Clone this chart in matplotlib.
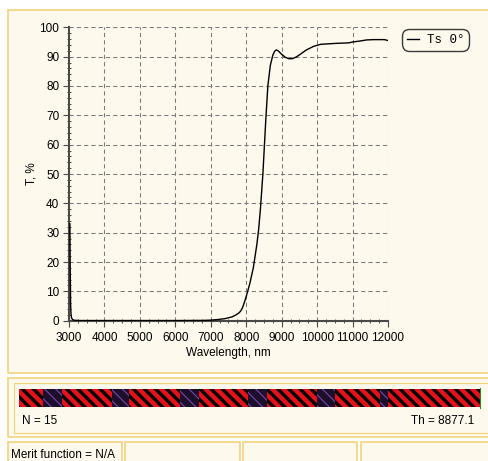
import matplotlib
matplotlib.use("Agg")
import matplotlib.pyplot as plt
import numpy as np
from matplotlib.patches import Rectangle
from matplotlib.lines import Line2D

# ---- data -------------------------------------------------------------
wavelength_nm = [3025, 3032, 3038, 3045, 3055, 3070, 3100, 3150, 3300, 4000,
                 5000, 6000, 6800, 7000, 7200, 7400, 7600, 7700, 7800, 7850,
                 7900, 7950, 8000, 8050, 8100, 8200, 8300, 8350, 8400, 8470,
                 8550, 8610, 8680, 8750, 8800, 8850, 8900, 9000, 9100, 9200,
                 9300, 9400, 9500, 9700, 9900, 10100, 10500, 10900, 11000,
                 11200, 11400, 11600, 11800, 11900, 12000]
transmittance = [33, 20, 14, 6, 2.5, 1.0, 0.4, 0.15, 0.05, 0.05,
                 0.05, 0.05, 0.1, 0.2, 0.4, 0.7, 1.3, 1.9, 2.7, 3.4,
                 4.6, 6.3, 8.3, 10.4, 12.6, 18, 26, 31, 38, 50,
                 68, 80, 87, 90.5, 91.8, 92.3, 92.0, 90.8, 89.8, 89.3,
                 89.3, 89.8, 90.6, 92.3, 93.5, 94.2, 94.5, 94.7, 95.0,
                 95.3, 95.7, 95.8, 95.8, 95.8, 95.5]

x_ticks = [3000, 4000, 5000, 6000, 7000, 8000, 9000, 10000, 11000, 12000]
y_ticks = [0, 10, 20, 30, 40, 50, 60, 70, 80, 90, 100]

# layer stack (physical thickness, nm) and material of each layer
layer_thickness = [462, 366, 963, 327, 982, 366, 944, 366, 963, 347, 867, 154, 1770.1]
layer_material = ["H", "L", "H", "L", "H", "L", "H", "L", "H", "L", "H", "L", "H"]
n_layers = 15
total_thickness = 8877.1

legend_label = "Ts 0°"

# ---- style ------------------------------------------------------------
W, H, DPI = 489, 461, 100
PANEL = "#fdf9ec"
BORDER = "#f2d37e"
FONT = "Liberation Sans"
plt.rcParams["font.family"] = [FONT, "DejaVu Sans"]
plt.rcParams["font.size"] = 8.5

fig = plt.figure(figsize=(W / DPI, H / DPI), dpi=DPI, facecolor="white")


def frac(x0, y0, x1, y1):
    """Pixel box (top-left origin) -> figure fraction rect."""
    return [x0 / W, 1 - y1 / H, (x1 - x0) / W, (y1 - y0) / H]


# background window panels, drawn in pixel space
bg = fig.add_axes([0, 0, 1, 1], zorder=-10)
bg.set_xlim(0, W)
bg.set_ylim(H, 0)
bg.axis("off")


def box(x0, y0, x1, y1, fc=PANEL, ec=BORDER, lw=1.2):
    bg.add_patch(Rectangle((x0, y0), x1 - x0, y1 - y0, facecolor=fc,
                           edgecolor=ec, linewidth=lw))


box(8, 10, 495, 373)          # chart panel
box(8, 378, 495, 437)         # layer structure panel
box(14, 383, 495, 433, lw=0.9)
for cx0, cx1 in [(8, 122), (125, 240), (243, 357), (361, 495)]:
    box(cx0, 442, cx1, 470)   # status bar cells

# ---- transmittance chart ---------------------------------------------
ax = fig.add_axes(frac(69, 27.3, 388, 320.7))
ax.set_facecolor("none")
ax.plot(wavelength_nm, transmittance, color="black", linewidth=1.0,
        zorder=3, label=legend_label)
ax.set_xlim(3000, 12000)
ax.set_ylim(0, 100)
ax.set_xticks(x_ticks)
ax.set_yticks(y_ticks)
ax.set_xticks(np.arange(3000, 12001, 250), minor=True)
ax.set_yticks(np.arange(0, 101, 2), minor=True)
ax.grid(True, which="major", color="#7a7a7a", linewidth=0.75,
        linestyle=(0, (4, 3)))
for s in ("top", "right"):
    ax.spines[s].set_visible(False)
for s in ("left", "bottom"):
    ax.spines[s].set_color("#4a4a4a")
    ax.spines[s].set_linewidth(1.5)
ax.tick_params(which="major", direction="out", length=4, width=0.8,
               color="#4a4a4a", labelsize=8.5, pad=3)
ax.tick_params(which="minor", direction="inout", length=3, width=0.7,
               color="#4a4a4a")
ax.tick_params(axis="x", which="major", pad=4)
ax.set_xlabel("Wavelength, nm", fontsize=8.5)
ax.set_ylabel("T, %", fontsize=8.5)
ax.xaxis.set_label_coords(0.5, -0.088)
ax.yaxis.set_label_coords(-0.1, 0.5)

leg = fig.legend(handles=[Line2D([], [], color="black", linewidth=1.0)],
                 labels=[legend_label], loc="upper left",
                 bbox_to_anchor=(402 / W, 1 - 29 / H), borderaxespad=0,
                 prop={"family": "Liberation Mono", "size": 9},
                 handlelength=1.0, handletextpad=0.6, borderpad=0.4,
                 fancybox=True, frameon=True)
leg.get_frame().set_facecolor(PANEL)
leg.get_frame().set_edgecolor("#3a3a3a")
leg.get_frame().set_linewidth(1.0)
leg.get_frame().set_alpha(1)
leg.get_frame().set_boxstyle("round", pad=0.0, rounding_size=0.6)

# ---- layer structure bar ---------------------------------------------
lx = fig.add_axes(frac(19, 389, 480, 407))
lx.set_xlim(0, total_thickness)
lx.set_ylim(0, 1)
lx.axis("off")
styles = {"H": dict(face="#e3121b", hatch="#000000", hlw=2.4),
          "L": dict(face="#1b0f2a", hatch="#7a46b4", hlw=0.8)}
lefts = np.concatenate([[0], np.cumsum(layer_thickness)[:-1]])
bars = lx.barh(0.5, layer_thickness, left=lefts, height=1.0)
for patch, mat in zip(bars.patches, layer_material):
    st = styles[mat]
    patch.set_facecolor(st["face"])
    patch.set_edgecolor(st["hatch"])
    patch.set_linewidth(0)
    patch.set_hatch("\\\\\\")
    if hasattr(patch, "set_hatch_linewidth"):
        patch.set_hatch_linewidth(st["hlw"])
# small green end markers at the right end of the stack
lx.plot([total_thickness, total_thickness], [-0.05, 1.05], color="#2a8a2a",
        linewidth=0.8, clip_on=False)

fig.text(22 / W, 1 - 421 / H, f"N = {n_layers}", ha="left", va="center",
         fontsize=8.5)
fig.text(474 / W, 1 - 421 / H, f"Th = {total_thickness}", ha="right",
         va="center", fontsize=8.5)
fig.text(11 / W, 1 - 455 / H, "Merit function = N/A", ha="left",
         va="center", fontsize=8.5)

fig.savefig("out.png", dpi=DPI, facecolor="white")
